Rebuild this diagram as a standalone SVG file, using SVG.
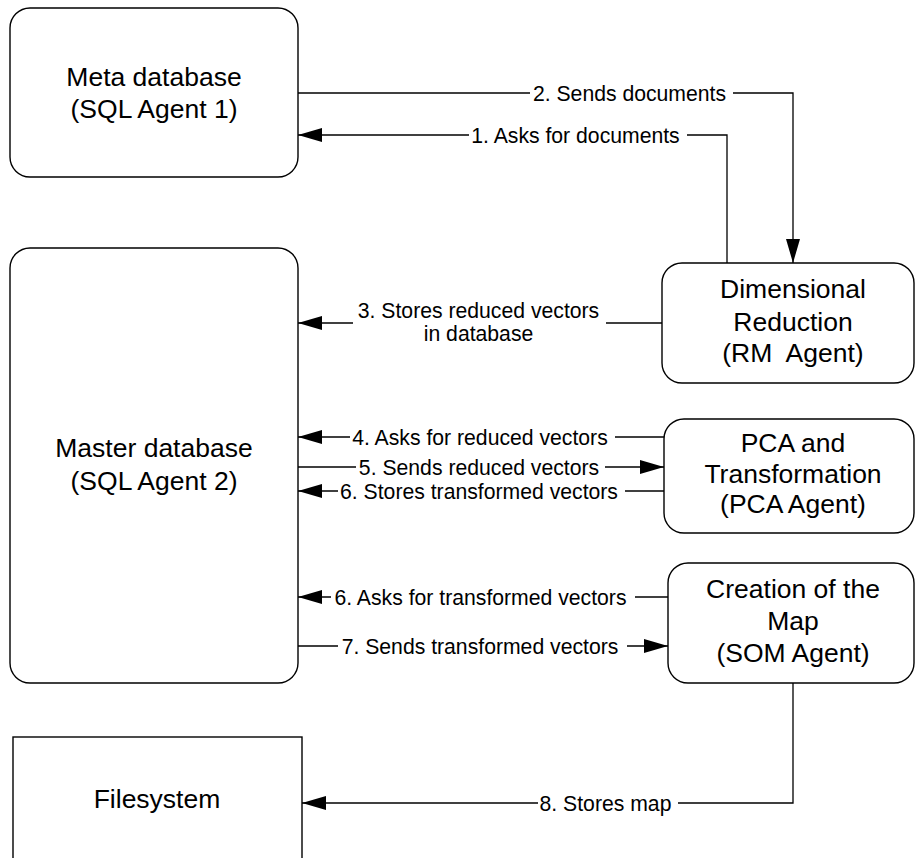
<svg xmlns="http://www.w3.org/2000/svg" width="915" height="858" viewBox="0 0 915 858">
  <defs>
    <marker id="arrow" markerUnits="userSpaceOnUse" markerWidth="24" markerHeight="14" refX="24" refY="7" orient="auto">
      <path d="M0,0 L24,7 L0,14 z" fill="#000"/>
    </marker>
    <style>
      .box { fill: #fff; stroke: #000; stroke-width: 1.4; }
      .node-text { font-family: "Liberation Sans", Arial, sans-serif; font-size: 26.5px; fill: #000; text-anchor: middle; }
      .wire { fill: none; stroke: #000; stroke-width: 1.3; }
      .arrowed { marker-end: url(#arrow); }
      .label { font-family: "Liberation Sans", Arial, sans-serif; font-size: 21.2px; fill: #000; text-anchor: middle; }
    </style>
  </defs>
  <rect width="915" height="858" fill="#fff"/>

  <!-- Nodes -->
  <g id="meta-db">
    <rect class="box" x="10" y="8" width="288" height="169" rx="20" ry="20"/>
    <text class="node-text" x="154" y="86">Meta database</text>
    <text class="node-text" x="154" y="118">(SQL Agent 1)</text>
  </g>

  <g id="master-db">
    <rect class="box" x="10" y="248" width="288" height="435" rx="20" ry="20"/>
    <text class="node-text" x="154" y="457">Master database</text>
    <text class="node-text" x="154" y="490">(SQL Agent 2)</text>
  </g>

  <g id="rm-agent">
    <rect class="box" x="662" y="263" width="252" height="120" rx="20" ry="20"/>
    <text class="node-text" x="793" y="298">Dimensional</text>
    <text class="node-text" x="793" y="331">Reduction</text>
    <text class="node-text" x="793" y="362" xml:space="preserve">(RM  Agent)</text>
  </g>

  <g id="pca-agent">
    <rect class="box" x="664" y="419" width="250" height="114" rx="20" ry="20"/>
    <text class="node-text" x="793" y="452">PCA and</text>
    <text class="node-text" x="793" y="483">Transformation</text>
    <text class="node-text" x="793" y="513">(PCA Agent)</text>
  </g>

  <g id="som-agent">
    <rect class="box" x="668" y="563" width="246" height="120" rx="20" ry="20"/>
    <text class="node-text" x="793" y="598">Creation of the</text>
    <text class="node-text" x="793" y="630">Map</text>
    <text class="node-text" x="793" y="662">(SOM Agent)</text>
  </g>

  <g id="filesystem">
    <rect class="box" x="13" y="737" width="289" height="140"/>
    <text class="node-text" x="157" y="808">Filesystem</text>
  </g>

  <!-- Connectors -->
  <g id="connectors">
    <!-- 1. Asks for documents -->
    <path class="wire" d="M727,263 V135 H687"/>
    <path class="wire arrowed" d="M469,135 H298"/>
    <text class="label" x="575.5" y="142.5">1. Asks for documents</text>

    <!-- 2. Sends documents -->
    <path class="wire" d="M298,93 H530"/>
    <path class="wire arrowed" d="M733,93 H793 V263"/>
    <text class="label" x="629.5" y="100.5">2. Sends documents</text>

    <!-- 3. Stores reduced vectors in database -->
    <path class="wire" d="M662,323 H606"/>
    <path class="wire arrowed" d="M353,323 H298"/>
    <text class="label" x="478.5" y="317.5">3. Stores reduced vectors</text>
    <text class="label" x="478.5" y="340.5">in database</text>

    <!-- 4. Asks for reduced vectors -->
    <path class="wire" d="M664,437 H615"/>
    <path class="wire arrowed" d="M350,437 H298"/>
    <text class="label" x="480" y="444.5">4. Asks for reduced vectors</text>

    <!-- 5. Sends reduced vectors -->
    <path class="wire" d="M298,467 H356"/>
    <path class="wire arrowed" d="M605,467 H664"/>
    <text class="label" x="479" y="474.5">5. Sends reduced vectors</text>

    <!-- 6. Stores transformed vectors -->
    <path class="wire" d="M664,491 H625"/>
    <path class="wire arrowed" d="M338,491 H298"/>
    <text class="label" x="479" y="498.5">6. Stores transformed vectors</text>

    <!-- 6. Asks for transformed vectors -->
    <path class="wire" d="M668,597 H635"/>
    <path class="wire arrowed" d="M331,597 H298"/>
    <text class="label" x="480.5" y="604.5">6. Asks for transformed vectors</text>

    <!-- 7. Sends transformed vectors -->
    <path class="wire" d="M298,646 H338"/>
    <path class="wire arrowed" d="M627,646 H668"/>
    <text class="label" x="480" y="653.5">7. Sends transformed vectors</text>

    <!-- 8. Stores map -->
    <path class="wire" d="M793,683 V803 H678"/>
    <path class="wire arrowed" d="M538,803 H302"/>
    <text class="label" x="605.5" y="810.5">8. Stores map</text>
  </g>
</svg>
